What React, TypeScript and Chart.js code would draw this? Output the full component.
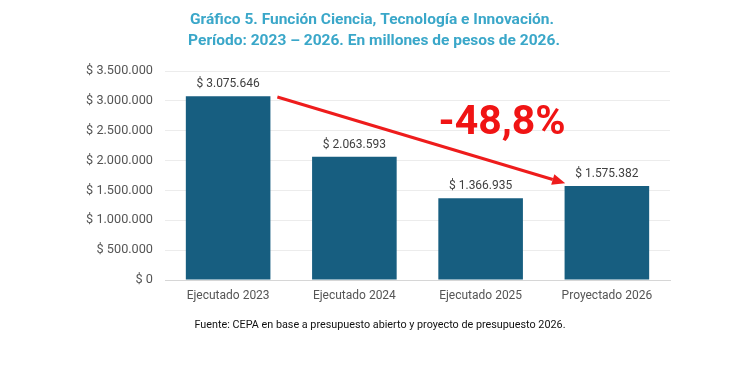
import React, { useEffect, useRef } from "react";
import { Chart, registerables } from "chart.js";

Chart.register(...registerables);

const categories = ["Ejecutado 2023", "Ejecutado 2024", "Ejecutado 2025", "Proyectado 2026"];
const values = [3075646, 2063593, 1366935, 1575382];
const yTicks = [0, 500000, 1000000, 1500000, 2000000, 2500000, 3000000, 3500000];
const titleLines = [
  "Gráfico 5. Función Ciencia, Tecnología e Innovación.",
  "Período: 2023 – 2026. En millones de pesos de 2026.",
];
const footnote = "Fuente: CEPA en base a presupuesto abierto y proyecto de presupuesto 2026.";
const changeLabel = "-48,8%";
// arrow endpoints in (category index, value) space
const arrowFrom = [0.39, 3065000];
const arrowTo = [2.67, 1620000];

const fmt = (v: number) => "$ " + String(Math.round(v)).replace(/\B(?=(\d{3})+(?!\d))/g, ".");

const FONT = "Roboto, 'Liberation Sans', sans-serif";

export default function App() {
  const ref = useRef<HTMLCanvasElement | null>(null);
  useEffect(() => {
    document.body.style.margin = "0";
    const canvas = ref.current!;
    const overlay = {
      id: "overlay",
      afterDatasetsDraw(chart: any) {
        const ctx = chart.ctx;
        const xs = chart.scales.x;
        const ys = chart.scales.y;
        const meta = chart.getDatasetMeta(0);
        ctx.save();
        // value labels
        ctx.font = `12px ${FONT}`;
        ctx.fillStyle = "#404040";
        ctx.textAlign = "center";
        ctx.textBaseline = "bottom";
        meta.data.forEach((bar: any, i: number) => {
          ctx.fillText(fmt(values[i]), bar.x, bar.y - 6);
        });
        // arrow
        const step = (xs.right - xs.left) / categories.length;
        const px = (idx: number) => xs.left + (idx + 0.5) * step;
        const x1 = px(arrowFrom[0]);
        const y1 = ys.getPixelForValue(arrowFrom[1]);
        const x2 = px(arrowTo[0]);
        const y2 = ys.getPixelForValue(arrowTo[1]);
        const ang = Math.atan2(y2 - y1, x2 - x1);
        const hl = 13;
        const hw = 5.5;
        const bx = x2 - hl * Math.cos(ang);
        const by = y2 - hl * Math.sin(ang);
        ctx.strokeStyle = "#ee1c1c";
        ctx.fillStyle = "#ee1c1c";
        ctx.lineWidth = 3;
        ctx.beginPath();
        ctx.moveTo(x1, y1);
        ctx.lineTo(bx, by);
        ctx.stroke();
        ctx.beginPath();
        ctx.moveTo(x2, y2);
        ctx.lineTo(bx + hw * Math.sin(ang), by - hw * Math.cos(ang));
        ctx.lineTo(bx - hw * Math.sin(ang), by + hw * Math.cos(ang));
        ctx.closePath();
        ctx.fill();
        // change label
        ctx.font = `bold 41px ${FONT}`;
        ctx.fillStyle = "#f01414";
        ctx.textAlign = "center";
        ctx.textBaseline = "middle";
        ctx.fillText(changeLabel, px(2.17), ys.getPixelForValue(2610000));
        // title
        ctx.font = `bold 15.5px ${FONT}`;
        ctx.fillStyle = "#3aa7c9";
        ctx.fillText(titleLines[0], 372, 20);
        ctx.fillText(titleLines[1], 374, 41);
        // footnote
        ctx.font = `10.8px ${FONT}`;
        ctx.fillStyle = "#111";
        ctx.fillText(footnote, 380, 325);
        ctx.restore();
      },
    };
    const chart = new Chart(canvas, {
      type: "bar",
      data: {
        labels: categories,
        datasets: [
          {
            data: values,
            backgroundColor: "#175e80",
            categoryPercentage: 0.67,
            barPercentage: 1,
          },
        ],
      },
      options: {
        animation: false,
        responsive: false,
        maintainAspectRatio: false,
        layout: { padding: { left: 65, right: 73, top: 71, bottom: 55 } },
        plugins: { legend: { display: false }, tooltip: { enabled: false }, title: { display: false } },
        scales: {
          x: {
            afterFit: (s: any) => {
              s.height = 30;
            },
            grid: { display: false, drawTicks: false },
            border: { color: "#d6d6d6", width: 1 },
            ticks: { color: "#555", font: { family: FONT, size: 12 }, padding: 9 },
          },
          y: {
            min: 0,
            max: 3500000,
            afterFit: (s: any) => {
              s.width = 100;
            },
            afterBuildTicks: (s: any) => {
              s.ticks = yTicks.map((v) => ({ value: v }));
            },
            grid: { color: "#ececec", drawTicks: false },
            border: { display: false },
            ticks: {
              color: "#555",
              font: { family: FONT, size: 12.7 },
              padding: 12,
              callback: (v: any) => fmt(Number(v)),
            },
          },
        },
      },
      plugins: [overlay],
    });
    return () => chart.destroy();
  }, []);
  return (
    <div style={{ width: 743, height: 365, background: "#fff" }}>
      <canvas ref={ref} width={743} height={365} style={{ display: "block" }} />
    </div>
  );
}
